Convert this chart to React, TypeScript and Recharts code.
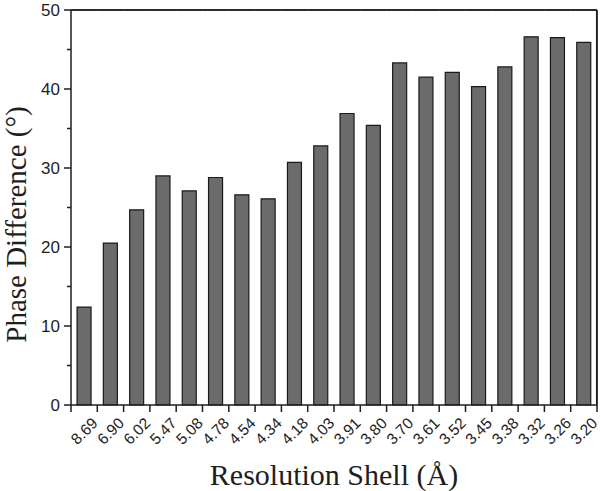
import React from 'react';
import { BarChart, Bar, XAxis, YAxis, ReferenceLine } from 'recharts';

const shells = ['8.69', '6.90', '6.02', '5.47', '5.08', '4.78', '4.54', '4.34', '4.18', '4.03',
  '3.91', '3.80', '3.70', '3.61', '3.52', '3.45', '3.38', '3.32', '3.26', '3.20'];
const phaseDiff = [12.4, 20.5, 24.7, 29.0, 27.1, 28.8, 26.6, 26.1, 30.7, 32.8,
  36.9, 35.4, 43.3, 41.5, 42.1, 40.3, 42.8, 46.6, 46.5, 45.9];
// major ticks get a label, the ones between are minor
const yTicks = [0, 5, 10, 15, 20, 25, 30, 35, 40, 45, 50];
const yMax = 50;
const xTitle = 'Resolution Shell (Å)';
const yTitle = 'Phase Difference (°)';

const data = shells.map((shell, i) => ({ shell, value: phaseDiff[i] }));

const ink = '#1e1e1e';
const sans = '"Liberation Sans", Arial, sans-serif';
const serif = '"Liberation Serif", "Times New Roman", serif';
const gap = 0.23; // barCategoryGap, per side

const ShellTick = (props: any) => {
  const { x, y, payload, index } = props;
  const half = payload.offset || 0;
  const cy = y + 26;
  const last = index === shells.length - 1;
  // the middle boundary of the axis carries the axis title
  const mid = index === shells.length / 2 - 1;
  return (
    <g>
      <line x1={x - half} x2={x - half} y1={y} y2={y + 7} stroke={ink} strokeWidth={1.5} />
      {last && <line x1={x + half} x2={x + half} y1={y} y2={y + 7} stroke={ink} strokeWidth={1.5} />}
      <text
        x={x}
        y={cy}
        transform={`rotate(-45, ${x}, ${cy})`}
        textAnchor="middle"
        dominantBaseline="central"
        fontFamily={sans}
        fontSize={15.5}
        fill={ink}>
        {payload.value}
      </text>
      {mid && (
        <text x={x + half} y={y + 80} textAnchor="middle" fontFamily={serif} fontSize={30} fill={ink}>
          {xTitle}
        </text>
      )}
    </g>
  );
};

const ValueTick = (props: any) => {
  const { x, y, payload } = props;
  const major = payload.value % 10 === 0;
  const mid = payload.value === yMax / 2;
  const tx = x - 45;
  const ty = y + 17;
  return (
    <g>
      <line x1={x - (major ? 7 : 4)} x2={x} y1={y} y2={y} stroke={ink} strokeWidth={1.5} />
      {major && (
        <text
          x={x - 11}
          y={y}
          textAnchor="end"
          dominantBaseline="central"
          fontFamily={sans}
          fontSize={17}
          fill={ink}>
          {payload.value}
        </text>
      )}
      {mid && (
        <text
          x={tx}
          y={ty}
          transform={`rotate(-90, ${tx}, ${ty})`}
          textAnchor="middle"
          fontFamily={serif}
          fontSize={29}
          fill={ink}>
          {yTitle}
        </text>
      )}
    </g>
  );
};

// bar background spans the full plot height: use it to draw the top and right frame
const FrameBackground = (props: any) => {
  const { x, y, width, height, index } = props;
  const band = width / (1 - 2 * gap);
  const cx = x + width / 2;
  const left = cx - band / 2;
  const right = cx + band / 2;
  return (
    <g>
      <line x1={left} x2={right} y1={y} y2={y} stroke={ink} strokeWidth={1.5} />
      {index === shells.length - 1 && (
        <line x1={right} x2={right} y1={y} y2={y + height} stroke={ink} strokeWidth={1.5} />
      )}
    </g>
  );
};

export default function App() {
  return (
    <div style={{ position: 'absolute', left: 0, top: 0 }}>
      <BarChart
        width={601}
        height={491}
        data={data}
        margin={{ top: 10, right: 4, bottom: 0, left: 0 }}
        barCategoryGap={`${gap * 100}%`}>
        <XAxis
          dataKey="shell"
          height={86}
          interval={0}
          tickLine={false}
          tickSize={0}
          tickMargin={0}
          tick={<ShellTick />}
          axisLine={{ stroke: ink, strokeWidth: 1.5 }}
        />
        <YAxis
          domain={[0, yMax]}
          ticks={yTicks}
          interval={0}
          width={71}
          tickLine={false}
          tickSize={0}
          tickMargin={0}
          tick={<ValueTick />}
          axisLine={{ stroke: ink, strokeWidth: 1.5 }}
        />
        <ReferenceLine y={yMax} stroke={ink} strokeWidth={1.5} ifOverflow="visible" />
        <ReferenceLine
          x={shells[shells.length - 1]}
          position="end"
          stroke={ink}
          strokeWidth={1.5}
          ifOverflow="visible"
        />
        <Bar
          dataKey="value"
          fill="#6b6b6b"
          stroke="#1a1a1a"
          strokeWidth={1.2}
          background={FrameBackground}
          isAnimationActive={false}
        />
      </BarChart>
    </div>
  );
}
